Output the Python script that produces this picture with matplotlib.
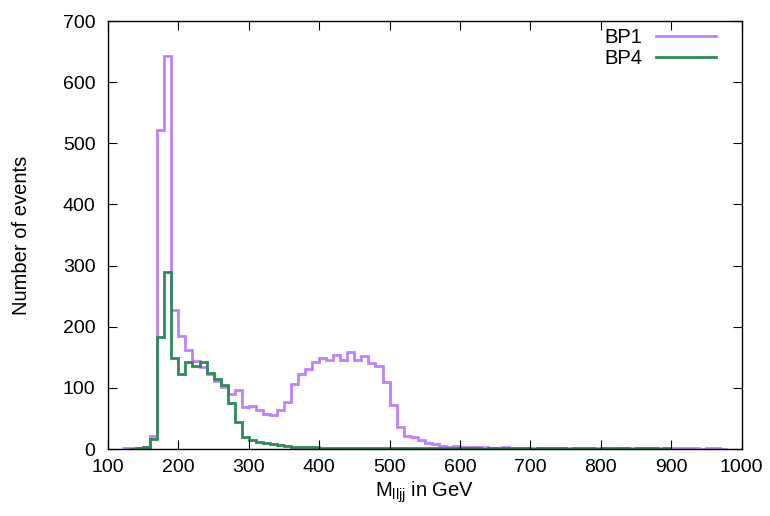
#!/usr/bin/env python3
"""Invariant mass M_lljj distribution for BP1 and BP4 (gnuplot-style histeps)."""

import matplotlib
matplotlib.use("Agg")
import matplotlib.pyplot as plt
import numpy as np

BIN_WIDTH = 10.0

# BP1: first bin starts at 120 GeV
bp1_start = 120.0
bp1_counts = [
    1, 1, 1, 4, 21, 522, 642, 227, 185, 162,          # 120-220
    144, 134, 123, 112, 101, 90, 96, 68, 71, 64,       # 220-320
    57, 56, 63, 77, 106, 123, 131, 142, 149, 146,      # 320-420
    154, 146, 158, 146, 152, 141, 135, 110, 72, 36,    # 420-520
    22, 20, 14, 10, 8, 5, 3, 5, 3, 3,                  # 520-620
    4, 3, 2, 2, 4, 2, 2, 1, 1, 1,                      # 620-720
    2, 1, 1, 1, 1, 0, 1, 1, 1, 0,                      # 720-820
    1, 1, 1, 2, 1, 1, 1, 0, 1, 1,                      # 820-920
    1, 1, 0, 1, 1, 0,                                  # 920-980
]

# BP4: first bin starts at 130 GeV
bp4_start = 130.0
bp4_counts = [
    0, 1, 4, 16, 183, 290, 149, 123, 143, 135,         # 130-230
    143, 125, 114, 105, 75, 44, 19, 15, 12, 10,        # 230-330
    8, 6, 5, 4, 4, 3, 3, 2, 2, 2,                      # 330-430
    1, 2, 1, 1, 2, 1, 1, 1, 2, 1,                      # 430-530
    1, 1, 1, 2, 1, 1, 1, 1, 1, 1,                      # 530-630
    0, 1, 1, 1, 1, 1, 1, 0, 1, 1,                      # 630-730
    1, 1, 0, 1, 1, 1, 0, 1, 1, 1,                      # 730-830
    1, 0, 1, 1, 1, 0, 1,                               # 830-900
]

series_labels = ["BP1", "BP4"]
series_colors = ["#c080ff", "#2e8b57"]

x_ticks = [100, 200, 300, 400, 500, 600, 700, 800, 900, 1000]
y_ticks = [0, 100, 200, 300, 400, 500, 600, 700]

plt.rcParams["font.family"] = ["Liberation Sans", "DejaVu Sans"]
plt.rcParams["mathtext.default"] = "regular"
plt.rcParams["font.size"] = 14

fig = plt.figure(figsize=(7.70, 5.16), dpi=100)
ax = fig.add_axes([108 / 770, 1 - 449 / 516, (741.5 - 108) / 770, (449 - 21) / 516])

for start, counts, lab, col in [
    (bp1_start, bp1_counts, series_labels[0], series_colors[0]),
    (bp4_start, bp4_counts, series_labels[1], series_colors[1]),
]:
    edges = start + BIN_WIDTH * np.arange(len(counts) + 1)
    ax.stairs(counts, edges, baseline=None, color=col, linewidth=2.0, label=lab)

ax.set_xlim(100, 1000)
ax.set_ylim(0, 700)
ax.set_xticks(x_ticks)
ax.set_yticks(y_ticks)
ax.tick_params(direction="in", length=6.5, width=0.8, top=True, right=True,
               labelsize=14, colors="black")
ax.tick_params(axis="x", pad=7)
ax.tick_params(axis="y", pad=9)
for sp in ax.spines.values():
    sp.set_linewidth(1.0)

ax.set_xlabel(r"M$_{lljj}$ in GeV", fontsize=14.5, labelpad=3)
ax.set_ylabel("Number of events", fontsize=14.5, labelpad=23)

ax.legend(loc="upper right", bbox_to_anchor=(1 - 9 / 633.5, 1 + 9 / 428),
          frameon=False, markerfirst=False,
          handlelength=3.0, handletextpad=0.7, labelspacing=0.1,
          borderaxespad=0.3, borderpad=0.5, fontsize=14.5)

fig.savefig("out.png", dpi=100)
